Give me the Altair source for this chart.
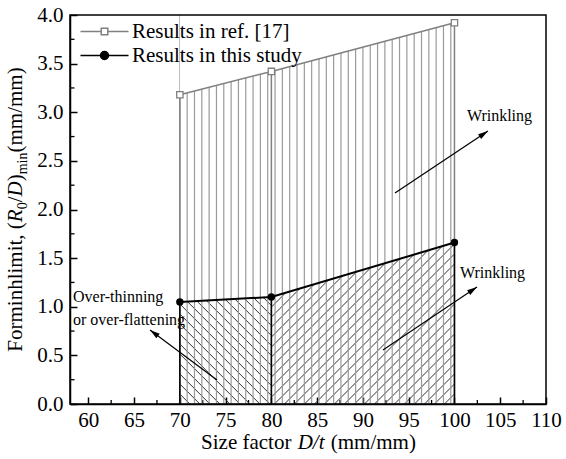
import math
import altair as alt
import pandas as pd

# ---------------- data ----------------
size_factor = [70, 80, 100]
ref_limit = [3.18, 3.42, 3.92]
study_limit = [1.05, 1.10, 1.66]
series_names = ["Results in ref. [17]", "Results in this study"]
x_tick_values = [60, 65, 70, 75, 80, 85, 90, 95, 100, 105, 110]
x_minor_values = [62.5, 67.5, 72.5, 77.5, 82.5, 87.5, 92.5, 97.5, 102.5, 107.5]
y_tick_values = [0.0, 0.5, 1.0, 1.5, 2.0, 2.5, 3.0, 3.5, 4.0]
y_minor_values = [0.25, 0.75, 1.25, 1.75, 2.25, 2.75, 3.25, 3.75]

# ---------------- layout / style ----------------
W, H = 476, 389
X_DOMAIN = [58, 110]
Y_DOMAIN = [0, 4]
FONT = "Liberation Serif"
GRAY = "#808080"
HATCH_GRAY = "#9a9a9a"
PX_X = W / (X_DOMAIN[1] - X_DOMAIN[0])
PX_Y = H / (Y_DOMAIN[1] - Y_DOMAIN[0])

ref_df = pd.DataFrame({"Dt": size_factor, "limit": ref_limit})
study_df = pd.DataFrame({"Dt": size_factor, "limit": study_limit})
one = pd.DataFrame({"a": [0]})

x_scale = alt.Scale(domain=X_DOMAIN, nice=False, zero=False)
y_scale = alt.Scale(domain=Y_DOMAIN, nice=False)
x_axis = alt.Axis(values=x_tick_values, format="d", title=None, tickSize={"expr": "-7"},
                  labelPadding=12, labelFlush=False, labelOverlap=False, grid=False)
y_axis = alt.Axis(values=y_tick_values, format=".1f", title=None, tickSize={"expr": "-7"},
                  labelPadding=14, labelFlush=False, labelOverlap=False, grid=False)


def xq(field):
    return alt.X(f"{field}:Q", scale=x_scale, axis=x_axis)


def yq(field):
    return alt.Y(f"{field}:Q", scale=y_scale, axis=y_axis)


def xd(v):
    return alt.XDatum(v, type="quantitative", scale=x_scale, axis=x_axis)


def yd(v):
    return alt.YDatum(v, type="quantitative", scale=y_scale, axis=y_axis)


TOP = alt.Y2Datum(Y_DOMAIN[1])
BOTTOM = alt.Y2Datum(Y_DOMAIN[0])

layers = []

# minor ticks (inward)
layers.append(alt.Chart(pd.DataFrame({"v": x_minor_values})).mark_rule(color="black", strokeWidth=1.3)
              .encode(x=xq("v"), y=alt.value(H), y2=alt.value(H - 4)))
layers.append(alt.Chart(pd.DataFrame({"v": y_minor_values})).mark_rule(color="black", strokeWidth=1.3)
              .encode(y=yq("v"), x=alt.value(0.5), x2=alt.value(4.5)))

# diagonal hatching (45 degrees in pixel space)
gap = 10 / PX_Y
x0, x1, x2 = size_factor
drop1 = (x1 - x0) * PX_X / PX_Y
rise2 = (x2 - x1) * PX_X / PX_Y
layers.append(
    alt.Chart(alt.sequence(0, 24, 1, as_="k"))
    .transform_calculate(ya=f"datum.k*{gap}", yb=f"datum.k*{gap} - {drop1}")
    .mark_rule(clip=True, color="#333333", strokeWidth=1)
    .encode(x=xd(x0), x2=alt.X2Datum(x1), y=yq("ya"), y2=alt.Y2("yb:Q"))
)
layers.append(
    alt.Chart(alt.sequence(0, 34, 1, as_="k"))
    .transform_calculate(ya=f"datum.k*{gap} - {rise2}", yb=f"datum.k*{gap}")
    .mark_rule(clip=True, color="#333333", strokeWidth=1)
    .encode(x=xd(x1), x2=alt.X2Datum(x2), y=yq("ya"), y2=alt.Y2("yb:Q"))
)
# mask above study line
layers.append(alt.Chart(study_df).mark_area(color="white", opacity=1)
              .encode(x=xq("Dt"), y=yq("limit"), y2=TOP))
# vertical hatching
layers.append(
    alt.Chart(alt.sequence(x0, x2, 0.8, as_="hx"))
    .mark_rule(color=HATCH_GRAY, strokeWidth=1.2)
    .encode(x=xq("hx"), y=yd(Y_DOMAIN[0]), y2=TOP)
)
# mask above ref line
layers.append(alt.Chart(ref_df).mark_area(color="white", opacity=1)
              .encode(x=xq("Dt"), y=yq("limit"), y2=TOP))

# boundary rules
layers.append(alt.Chart(ref_df).mark_rule(color=GRAY, strokeWidth=1.5)
              .encode(x=xq("Dt"), y=yq("limit"), y2=BOTTOM))
layers.append(alt.Chart(study_df).mark_rule(color="black", strokeWidth=1.5)
              .encode(x=xq("Dt"), y=yq("limit"), y2=BOTTOM))

# series lines and points
layers.append(alt.Chart(ref_df).mark_line(color=GRAY, strokeWidth=1.5)
              .encode(x=xq("Dt"), y=yq("limit")))
layers.append(alt.Chart(study_df).mark_line(color="black", strokeWidth=2)
              .encode(x=xq("Dt"), y=yq("limit")))
layers.append(alt.Chart(ref_df).mark_point(shape="square", filled=True, fill="white", stroke=GRAY,
                                           strokeWidth=1.3, size=40, opacity=1)
              .encode(x=xq("Dt"), y=yq("limit")))
layers.append(alt.Chart(study_df).mark_point(shape="circle", filled=True, color="black", size=55, opacity=1)
              .encode(x=xq("Dt"), y=yq("limit")))

# annotations
ARROW_PATH = "M0,0L-2.5,-0.7L-2.5,0.7Z"


def arrow(ax0, ay0, ax1, ay1):
    ang = math.degrees(math.atan2(-(ay1 - ay0) * PX_Y, (ax1 - ax0) * PX_X)) % 360
    shaft = alt.Chart(one).mark_rule(color="black", strokeWidth=1.2).encode(
        x=xd(ax0), y=yd(ay0), x2=alt.X2Datum(ax1), y2=alt.Y2Datum(ay1))
    head = alt.Chart(one).mark_point(shape=ARROW_PATH, filled=True, color="black", size=64,
                                     angle=ang, opacity=1, strokeWidth=0).encode(x=xd(ax1), y=yd(ay1))
    return [shaft, head]


def note(text, ax, ay, align):
    return alt.Chart(one).mark_text(text=text, font=FONT, fontSize=16, color="black",
                                    align=align, baseline="middle").encode(x=xd(ax), y=yd(ay))


layers += arrow(93.50, 2.170, 103.66, 2.807)
layers += arrow(92.19, 0.555, 102.46, 1.203)
layers += arrow(74.06, 0.247, 66.74, 0.761)
layers.append(note("Wrinkling", 104.92, 2.961, "center"))
layers.append(note("Wrinkling", 104.16, 1.344, "center"))
layers.append(note("Over-thinning", 58.33, 1.100, "left"))
layers.append(note("or over-flattening", 58.33, 0.864, "left"))

# frame
layers.append(alt.Chart(one).mark_rect(filled=False, color="black", strokeWidth=1.5)
              .encode(x=alt.value(0), x2=alt.value(W), y=alt.value(0), y2=alt.value(H)))

# legend (invisible carrier points, clipped away)
LR = 11.5
hl, sq, cr = 24 / LR, 3.3 / LR, 4.0 / LR
sq_path = f"M{-hl:.3f},0H{-sq:.3f}M{sq:.3f},0H{hl:.3f}M{-sq:.3f},{-sq:.3f}H{sq:.3f}V{sq:.3f}H{-sq:.3f}Z"
cr_path = (f"M{-hl:.3f},0H{hl:.3f}M{cr:.3f},0A{cr:.3f},{cr:.3f},0,1,1,{-cr:.3f},0"
           f"A{cr:.3f},{cr:.3f},0,1,1,{cr:.3f},0Z")
leg = alt.Legend(title=None, orient="none", legendX=22, legendY=4, padding=0, rowPadding=1,
                 labelFont=FONT, labelFontSize=21, labelColor="black", labelOffset=15, labelLimit=400,
                 symbolSize=LR * LR * 4, symbolStrokeWidth=1.5, symbolOpacity=1)
legend_df = pd.DataFrame({"series": series_names})
layers.append(
    alt.Chart(legend_df).mark_point(clip=True, filled=True)
    .encode(
        x=alt.value(-500), y=alt.value(-500),
        stroke=alt.Stroke("series:N", scale=alt.Scale(domain=series_names, range=[GRAY, "black"]), legend=leg),
        fill=alt.Fill("series:N", scale=alt.Scale(domain=series_names, range=["white", "black"]), legend=leg),
        shape=alt.Shape("series:N", scale=alt.Scale(domain=series_names, range=[sq_path, cr_path]), legend=leg),
    )
)

# axis titles built from styled pieces
EM = {" ": .25, "(": .333, ")": .333, ",": .25, "/": .278, ".": .25, "0": .5, "F": .556, "R": .667,
      "D": .722, "S": .556, "a": .444, "c": .444, "e": .444, "f": .333, "h": .5, "i": .278,
      "l": .278, "m": .778, "n": .5, "o": .5, "r": .333, "t": .278, "z": .444}
EM_I = {"R": .611, "D": .722, "t": .278, "/": .278}


def tw(s, size, italic=False):
    tab = EM_I if italic else EM
    return sum(tab.get(ch, EM.get(ch, .5)) for ch in s) * size


TS, SS = 21, 14
y_pieces = [("Forminhlimit, (", TS, False, False), ("R", TS, True, False), ("0", SS, False, True),
            ("/", TS, False, False), ("D", TS, True, False), (")", TS, False, False),
            ("min", SS, False, True), ("(mm/mm)", TS, False, False)]
total = sum(tw(p[0], p[1], p[2]) for p in y_pieces)
pos = H / 2 + total / 2
for txt, fs, it, sub in y_pieces:
    layers.append(alt.Chart(one).mark_text(text=txt, font=FONT, fontSize=fs, color="black",
                                           fontStyle="italic" if it else "normal",
                                           angle=270, align="left", baseline="alphabetic")
                  .encode(x=alt.value(-48.5 + (5 if sub else 0)), y=alt.value(pos)))
    pos -= tw(txt, fs, it)

x_pieces = [("Size factor", " ", False), ("D/t", " ", True), ("(mm/mm)", "", False)]
xtotal = sum(tw(t, TS, it) + tw(sp, TS) + 1 for t, sp, it in x_pieces)
xpos = W / 2 - xtotal / 2 + 1
for txt, sp, it in x_pieces:
    layers.append(alt.Chart(one).mark_text(text=txt, font=FONT, fontSize=TS, color="black",
                                           fontStyle="italic" if it else "normal",
                                           align="left", baseline="alphabetic")
                  .encode(x=alt.value(xpos), y=alt.value(434)))
    xpos += tw(txt, TS, it) + tw(sp, TS) + 1

chart = (
    alt.layer(*layers)
    .properties(width=W, height=H, autosize=alt.AutoSizeParams(type="none"),
                padding={"left": 70, "top": 15, "right": 20, "bottom": 55}, background="white")
    .configure_view(stroke="transparent")
    .configure_axis(domainColor="black", domainWidth=1.5, tickColor="black", tickWidth=1.5,
                    labelFont=FONT, labelFontSize=21, labelColor="black")
)

chart.save("out.html", embed_options={"renderer": "svg", "actions": False})
